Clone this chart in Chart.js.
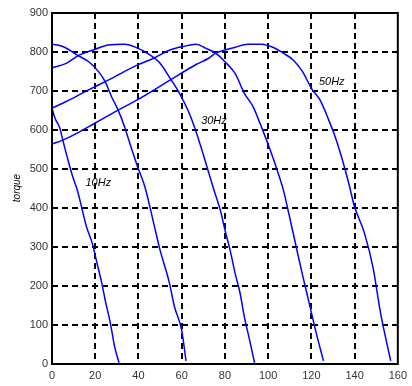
<!DOCTYPE html>
<html>
<head>
<meta charset="utf-8">
<script src="https://cdn.jsdelivr.net/npm/chart.js@4/dist/chart.umd.min.js"></script>
<style>
html,body{margin:0;padding:0;background:#fff;}
#wrap{width:412px;height:386px;position:relative;}
</style>
</head>
<body>
<div id="wrap"><canvas id="c" width="412" height="386"></canvas></div>
<script>
// speed (x) and torque (y)
const speed10 = [0, 1.4, 3.6, 5, 7.4, 9.6, 11.7, 14, 16, 18.6, 20.8, 23, 24.6, 27, 29, 31];
const torque10 = [656, 630, 605, 574, 523, 480, 446, 395, 351, 310, 259, 208, 164, 105, 44, 3];

const speed20 = [0, 5, 11.7, 17, 21.6, 24.6, 27.5, 30.6, 33.6, 36.5, 39.6, 43, 47, 50, 54, 56.7, 60, 62];
const torque20 = [820, 814, 792, 775, 749, 724, 686, 651, 608, 557, 506, 454, 362, 292, 215, 146, 87, 8];

const speed30 = [0, 6.6, 12.6, 20, 26, 33.6, 39.6, 44, 50, 54.6, 59, 63.5, 66.7, 69, 72, 75, 78, 80, 82.4, 84.7, 87, 89, 91.4, 93.7];
const torque30 = [759, 771, 792, 807, 818, 820, 810, 797, 771, 733, 694, 643, 595, 555, 500, 445, 392, 344, 292, 233, 182, 121, 62, 3];

const speed40 = [0, 6.6, 15.6, 26, 39.6, 47, 54.6, 60.6, 66.7, 71, 75.7, 80, 84.7, 89, 93, 98, 101, 104, 107, 110, 113, 116, 119, 122, 125.6];
const torque40 = [656, 673, 699, 728, 767, 784, 805, 814, 820, 810, 797, 775, 745, 694, 660, 592, 548, 500, 447, 375, 300, 226, 156, 85, 8];

const speed50 = [0, 5, 11, 20, 30.6, 40, 54.6, 66.7, 72.5, 75.7, 80, 84.7, 90.6, 97, 102.7, 107, 111.7, 116, 120, 124, 128, 131, 134, 137, 140, 144.6, 148.6, 152, 156.7];
const torque50 = [564, 574, 590, 618, 651, 679, 728, 768, 784, 797, 805, 812, 820, 820, 811, 797, 779, 749, 707, 677, 626, 583, 530, 470, 403, 335, 245, 131, 8];

const curveLabels = ["10Hz", "30Hz", "50Hz"];
const labelSpeed = [15.5, 69, 123.5];
const labelTorque = [465, 623, 722];

const xTicks = [0, 20, 40, 60, 80, 100, 120, 140, 160];
const yTicks = [0, 100, 200, 300, 400, 500, 600, 700, 800, 900];
const yTitle = "torque";

function pts(xs, ys){ return xs.map((x,i)=>({x:x, y:ys[i]})); }
const series = [[speed10,torque10],[speed20,torque20],[speed30,torque30],[speed40,torque40],[speed50,torque50]];

const labelPlugin = {
  id:'curveLabels',
  afterDatasetsDraw(chart){
    const ctx = chart.ctx;
    const xs = chart.scales.x, ys = chart.scales.y;
    ctx.save();
    ctx.font = 'italic 11px "Liberation Sans", Arial, sans-serif';
    ctx.fillStyle = '#000';
    ctx.textBaseline = 'middle';
    ctx.textAlign = 'left';
    curveLabels.forEach((t,i)=>{
      ctx.fillText(t, xs.getPixelForValue(labelSpeed[i]), ys.getPixelForValue(labelTorque[i]));
    });
    ctx.translate(17, 188);
    ctx.rotate(-Math.PI/2);
    ctx.textAlign = 'center';
    ctx.font = 'italic 10px "Liberation Sans", Arial, sans-serif';
    ctx.fillText(yTitle, 0, 0);
    ctx.restore();
  }
};

const borderPlugin = {
  id:'frame',
  afterDraw(chart){
    const a = chart.chartArea, ctx = chart.ctx;
    ctx.save();
    ctx.strokeStyle = '#000';
    ctx.lineWidth = 2;
    ctx.strokeRect(a.left, a.top, a.right - a.left, a.bottom - a.top);
    ctx.restore();
  }
};

new Chart(document.getElementById('c'), {
  type: 'line',
  data: {
    datasets: series.map(s=>({
      data: pts(s[0], s[1]),
      borderColor: '#0000ff',
      borderWidth: 1.5,
      pointRadius: 0,
      fill: false,
      cubicInterpolationMode: 'monotone'
    }))
  },
  options: {
    responsive: false,
    animation: false,
    devicePixelRatio: 1,
    layout: { padding: { left: 0, right: 4, top: 13, bottom: 0 } },
    plugins: { legend: { display: false }, tooltip: { enabled: false } },
    scales: {
      x: {
        type: 'linear', min: 0, max: 160,
        afterBuildTicks(s){ s.ticks = xTicks.map(v=>({value:v})); },
        afterFit(s){ s.height = 22; },
        grid: {
          color: (c)=> (c.tick && (c.tick.value===0 || c.tick.value===160)) ? 'rgba(0,0,0,0)' : '#000',
          lineWidth: 2, drawTicks: false
        },
        border: { display: false, dash: [6,4] },
        ticks: { color: '#333', font: { size: 11, family: '"Liberation Sans", Arial, sans-serif' }, padding: 5, maxRotation: 0, autoSkip: false }
      },
      y: {
        type: 'linear', min: 0, max: 900,
        afterBuildTicks(s){ s.ticks = yTicks.map(v=>({value:v})); },
        afterFit(s){ s.width = 52; },
        grid: {
          color: (c)=> (c.tick && (c.tick.value===0 || c.tick.value===900)) ? 'rgba(0,0,0,0)' : '#000',
          lineWidth: 2, drawTicks: false
        },
        border: { display: false, dash: [6,4] },
        ticks: { color: '#333', font: { size: 11, family: '"Liberation Sans", Arial, sans-serif' }, padding: 4, autoSkip: false }
      }
    }
  },
  plugins: [labelPlugin, borderPlugin]
});
</script>
</body>
</html>
